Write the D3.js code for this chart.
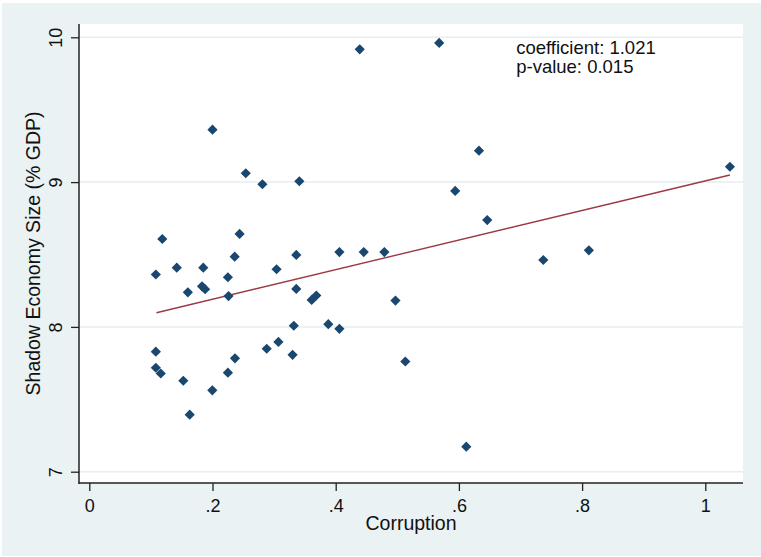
<!DOCTYPE html>
<html>
<head>
<meta charset="utf-8">
<script src="https://cdn.jsdelivr.net/npm/d3@7"></script>
<style>
  html, body { margin: 0; padding: 0; background: #ffffff; }
  svg { display: block; font-family: "Liberation Sans", Arial, sans-serif; }
  .tick text { fill: #111; }
</style>
</head>
<body>
<div id="chart"></div>
<script>
// values
var corruption = [0.439, 0.568, 0.200, 0.254, 0.281, 0.341, 0.1185, 0.244, 0.236, 0.336,
  0.108, 0.142, 0.185, 0.304, 0.160, 0.183, 0.188, 0.225, 0.226, 0.336,
  0.361, 0.3685, 0.332, 0.108, 0.108, 0.116, 0.1526, 0.163, 0.1997, 0.225,
  0.2365, 0.288, 0.307, 0.330, 0.594, 0.646, 0.406, 0.4455, 0.479, 0.497,
  0.388, 0.406, 0.513, 0.612, 0.6326, 0.737, 0.811, 1.040];
var shadowSize = [9.917, 9.961, 9.362, 9.061, 8.985, 9.006, 8.607, 8.642, 8.485, 8.497,
  8.362, 8.409, 8.409, 8.398, 8.239, 8.280, 8.260, 8.343, 8.213, 8.262,
  8.186, 8.217, 8.008, 7.829, 7.718, 7.678, 7.628, 7.394, 7.562, 7.684,
  7.783, 7.849, 7.896, 7.807, 8.939, 8.738, 8.517, 8.517, 8.517, 8.182,
  8.019, 7.987, 7.761, 7.173, 9.217, 8.462, 8.529, 9.106];
var fitX = [0.109, 1.040];
var fitY = [8.098, 9.049];
var xTicks = [0, 0.2, 0.4, 0.6, 0.8, 1];
var xTickLabels = ["0", ".2", ".4", ".6", ".8", "1"];
var yTicks = [7, 8, 9, 10];
var yTickLabels = ["7", "8", "9", "10"];
var annotation = ["coefficient: 1.021", "p-value: 0.015"];

var width = 761,
  height = 557,
  plot = { left: 79, right: 743, top: 24, bottom: 483 };

var svg = d3.select("#chart").append("svg")
  .attr("width", width)
  .attr("height", height);

// outer graph region
svg.append("rect")
  .attr("x", 2).attr("y", 3)
  .attr("width", width - 2).attr("height", height - 4)
  .attr("fill", "#eaf2f3");

// plot region
svg.append("rect")
  .attr("x", plot.left).attr("y", plot.top)
  .attr("width", plot.right - plot.left).attr("height", plot.bottom - plot.top)
  .attr("fill", "#ffffff");

var x = d3.scaleLinear().domain([0, 1]).range([89.3, 705.3]),
  y = d3.scaleLinear().domain([7, 10]).range([471.7, 37.3]);

// grid lines
svg.append("g")
  .selectAll("line")
  .data(yTicks)
  .enter().append("line")
  .attr("x1", plot.left).attr("x2", plot.right)
  .attr("y1", function(d) { return y(d); })
  .attr("y2", function(d) { return y(d); })
  .attr("stroke", "#e6eef1")
  .attr("stroke-width", 1.5);

// axes
var xAxis = d3.axisBottom(x)
  .tickValues(xTicks)
  .tickFormat(function(d, i) { return xTickLabels[i]; })
  .tickSize(8).tickSizeOuter(0).tickPadding(8);
var yAxis = d3.axisLeft(y)
  .tickValues(yTicks)
  .tickFormat(function(d, i) { return yTickLabels[i]; })
  .tickSize(8).tickSizeOuter(0);

var gx = svg.append("g")
  .attr("transform", "translate(0," + plot.bottom + ")")
  .call(xAxis);
gx.select(".domain").remove();
gx.selectAll(".tick line").attr("stroke", "#222").attr("stroke-width", 1.3);
gx.selectAll(".tick text").attr("font-size", 18).attr("font-family", null);

var gy = svg.append("g")
  .attr("transform", "translate(" + plot.left + ",0)")
  .call(yAxis);
gy.select(".domain").remove();
gy.selectAll(".tick line").attr("stroke", "#222").attr("stroke-width", 1.3);
gy.selectAll(".tick text")
  .attr("font-size", 18).attr("font-family", null)
  .attr("x", null).attr("dy", null)
  .attr("text-anchor", "middle")
  .attr("transform", "translate(-17,0) rotate(-90)");

svg.append("line")
  .attr("x1", plot.left).attr("x2", plot.left)
  .attr("y1", plot.top).attr("y2", plot.bottom + 0.7)
  .attr("stroke", "#222").attr("stroke-width", 1.5);
svg.append("line")
  .attr("x1", plot.left - 0.7).attr("x2", plot.right)
  .attr("y1", plot.bottom).attr("y2", plot.bottom)
  .attr("stroke", "#222").attr("stroke-width", 1.5);

// fitted line
var line = d3.line()
  .x(function(d) { return x(d[0]); })
  .y(function(d) { return y(d[1]); });
svg.append("path")
  .datum(d3.zip(fitX, fitY))
  .attr("d", line)
  .attr("fill", "none")
  .attr("stroke", "#9b3a42")
  .attr("stroke-width", 1.4);

// markers
var diamond = d3.symbol().type(d3.symbolSquare).size(52);
svg.append("g")
  .selectAll("path")
  .data(d3.zip(corruption, shadowSize))
  .enter().append("path")
  .attr("d", diamond)
  .attr("transform", function(d) {
    return "translate(" + x(d[0]) + "," + y(d[1]) + ") rotate(45)";
  })
  .attr("fill", "#1a476f");

// annotation
svg.append("g")
  .selectAll("text")
  .data(annotation)
  .enter().append("text")
  .attr("x", x(0.693))
  .attr("y", function(d, i) { return y(10) + 16.5 + i * 19; })
  .attr("font-size", 18.5)
  .attr("fill", "#111")
  .text(function(d) { return d; });

// axis titles
svg.append("text")
  .attr("x", (plot.left + plot.right) / 2)
  .attr("y", 530)
  .attr("text-anchor", "middle")
  .attr("font-size", 19.5)
  .attr("fill", "#111")
  .text("Corruption");

svg.append("text")
  .attr("transform", "translate(40," + (plot.top + plot.bottom) / 2 + ") rotate(-90)")
  .attr("text-anchor", "middle")
  .attr("font-size", 19.5)
  .attr("fill", "#111")
  .text("Shadow Economy Size (% GDP)");
</script>
</body>
</html>
